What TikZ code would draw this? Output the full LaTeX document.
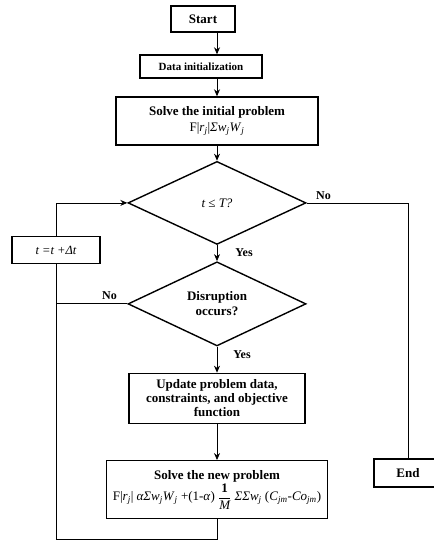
\documentclass[tikz,border=0pt]{standalone}
\usepackage{fontspec}
\setmainfont{Liberation Serif}
\usepackage{tikz}
\usetikzlibrary{arrows.meta,shapes.geometric,positioning}
\newcommand{\subj}[1]{\textsubscript{\itshape #1}}

\begin{document}
\begin{tikzpicture}
		[x=1pt, y=1pt, inner sep=0pt, >={Stealth[length=7pt, width=6pt]},
		box/.style		= {draw, rectangle, line width=1.4pt, align=center, font=\bfseries\fontsize{13}{14}\selectfont},
		test/.style		= {draw, diamond, line width=1.4pt, align=center, minimum width=178pt, minimum height=83pt, font=\bfseries\fontsize{13}{15}\selectfont},
		flow/.style		= {->, line width=0.8pt},
		link/.style		= {line width=0.8pt},
		answer/.style	= {inner sep=2pt, font=\bfseries\fontsize{12}{14}\selectfont}]

		\useasboundingbox (0,0) rectangle (433,-545);

		\node [box, minimum width=64pt, minimum height=26pt]		at (203,-19)	(1)	{Start};
		\node [box, minimum width=122pt, minimum height=23pt, font=\bfseries\fontsize{11}{13}\selectfont]
																at (201,-66.5)	(2)	{Data initialization};
		\node [box, minimum width=202pt, minimum height=48pt]	at (217,-121)	(3)	{Solve the initial problem\\[2pt]
				{\mdseries\fontsize{13}{14}\selectfont F|\textit{r}\subj{j}|\textit{Σw}\subj{j}\textit{W}\subj{j}}};
		\node [test, below = 15pt of 3]							(4)	{\mdseries\itshape t ≤ T?};
		\node [test, below = 16pt of 4]							(5)	{Disruption\\occurs?};
		\node [box, minimum width=176pt, minimum height=50pt, below = 26pt of 5]
																(6)	{Update problem data,\\constraints, and objective\\function};
		\node [box, minimum width=221pt, minimum height=58pt, below = 36pt of 6]
																(7)	{Solve the new problem\\[1pt]
				{\mdseries\fontsize{13}{14}\selectfont F|\textit{r}\subj{j}| \textit{αΣw}\subj{j}\textit{W}\subj{j} +(1-\textit{α})
				${\displaystyle\frac{\mbox{\bfseries 1}}{\mbox{\itshape M}}}$ \textit{ΣΣw}\subj{j} (\textit{C}\subj{jm}-\textit{Co}\subj{jm})}};

		\node [box, minimum width=88pt, minimum height=27pt, font=\mdseries\itshape\fontsize{12.5}{14}\selectfont]
																at (56,-250)	(8)	{t =t +Δt};
		\node [box, minimum width=68pt, minimum height=28pt]	at (408,-473)	(9)	{End};
		\coordinate [below = 20pt of 7]							(10);

		% main flow
		\draw [flow] (1.south -| 3) -- (2.north -| 3);
		\draw [flow] (2.south -| 3) -- (3);
		\draw [flow] (3) -- (4);
		\draw [flow] (4) -- node [answer, right, pos=0.45, xshift=16pt] {Yes} (5);
		\draw [flow] (5) -- node [answer, right, pos=0.3, xshift=14pt] {Yes} (6);
		\draw [flow] (6) -- (7);

		% loop back
		\draw [link] (7) -- (10) -| (8);
		\draw [flow] (8) |- (4);
		\draw [link] (5.west) -- node [answer, above, pos=0.25, yshift=2pt] {No} (5.west -| 8);

		% exit
		\draw [link] (4.east) -- node [answer, above right, pos=0, xshift=7pt, yshift=1pt] {No} (4.east -| 9) -- (9);
\end{tikzpicture}
\end{document}
